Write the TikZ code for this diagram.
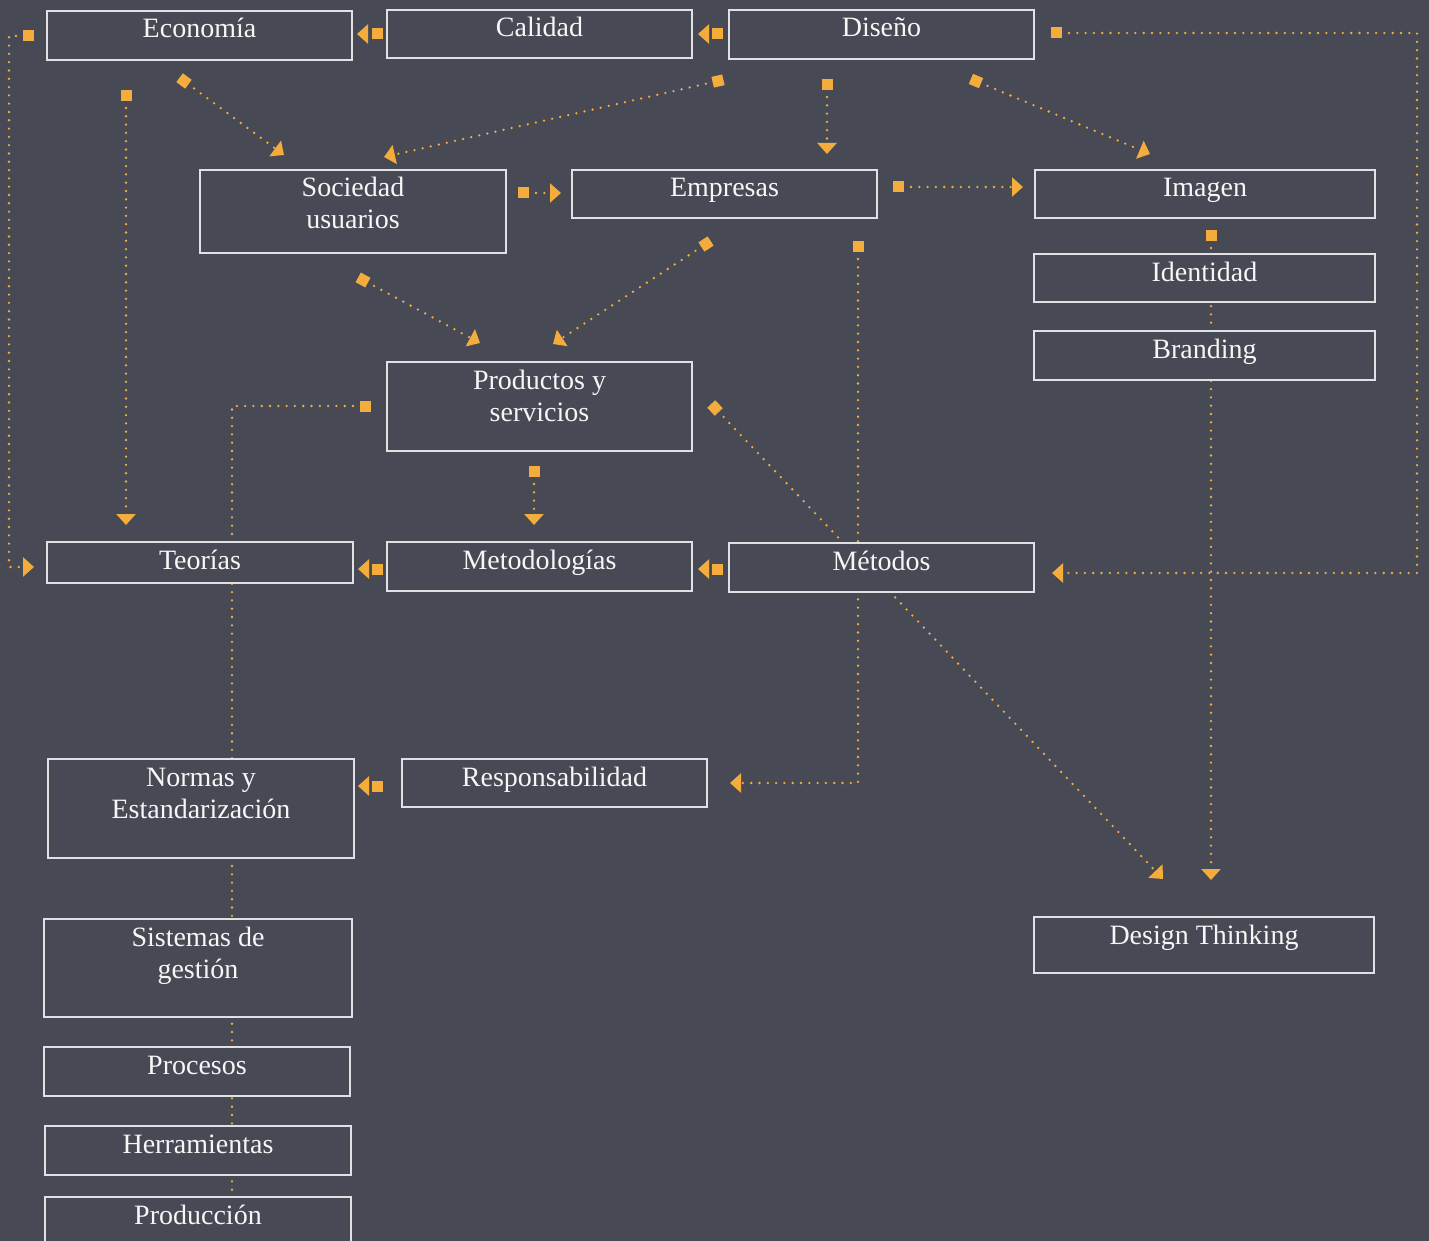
\documentclass[tikz,border=0pt]{standalone}
\usepackage{fontspec}
\setmainfont{Liberation Serif}
\usetikzlibrary{arrows.meta}
\definecolor{bgc}{RGB}{71,74,84}
\definecolor{orn}{RGB}{244,173,60}
\definecolor{edg}{RGB}{225,225,228}
\definecolor{txc}{RGB}{246,246,246}
\newcommand\mybox[7]{%
  \node[boxst, minimum width={#4-#2}, minimum height={#5-#3}] (#1) at ({(#2+#4)/2},{(#3+#5)/2}) {};
  \node[txt, anchor=base] (#1-l1) at ([yshift=-27pt]#1.north) {#6};
  \if\relax\detokenize{#7}\relax\else
  \node[txt, anchor=base] (#1-l2) at ([yshift=-59pt]#1.north) {#7};\fi}
\begin{document}
\begin{tikzpicture}[x=1pt,y=-1pt,
  boxst/.style={draw=edg, line width=1.3pt, fill=bgc, inner sep=0pt, outer sep=0pt},
  txt/.style={text=txc, font=\fontsize{28}{32}\selectfont, inner sep=0pt},
  conn/.style={draw=orn, line width=2.6pt, dash pattern=on 0pt off 8.3pt, line cap=round,
    arrows={Square[length=11pt,width=11pt]-Triangle[length=11pt,width=19pt]}},
  link/.style={draw=orn, line width=2.6pt, dash pattern=on 0pt off 8.3pt, line cap=round,
    arrows={Square[length=11pt,width=11pt]-}}]
\useasboundingbox (0,0) rectangle (1429,1241);
\clip (0,0) rectangle (1429,1241);
\fill[bgc] (0,0) rectangle (1429,1241);

% connector end points
\coordinate (c1s) at (383,34);   \coordinate (c1e) at (357,34);
\coordinate (c2s) at (723,34);   \coordinate (c2e) at (698,34);
\coordinate (c3s) at (1051,33);  \coordinate (c3a) at (1417,33); \coordinate (c3b) at (1417,573); \coordinate (c3e) at (1052,573);
\coordinate (c4s) at (34,36);    \coordinate (c4a) at (9,36);    \coordinate (c4b) at (9,567);     \coordinate (c4e) at (34,567);
\coordinate (c5s) at (126,90);   \coordinate (c5e) at (126,525);
\coordinate (c6s) at (179.6,77.7); \coordinate (c6e) at (284,155);
\coordinate (c7s) at (723.4,79.8); \coordinate (c7e) at (384,157);
\coordinate (c8s) at (827,79);   \coordinate (c8e) at (827,154);
\coordinate (c9s) at (970.9,78.9); \coordinate (c9e) at (1150,154);
\coordinate (c10s) at (518,193); \coordinate (c10e) at (561,193);
\coordinate (c11s) at (893,187); \coordinate (c11e) at (1023,187);
\coordinate (c12s) at (1211,230); \coordinate (c12e) at (1211,880);
\coordinate (c13s) at (710.6,241); \coordinate (c13e) at (553,344);
\coordinate (c14s) at (358.2,277.4); \coordinate (c14e) at (480,343);
\coordinate (c15s) at (858,241); \coordinate (c15a) at (858,783); \coordinate (c15e) at (730,783);
\coordinate (c16s) at (371,406); \coordinate (c16a) at (232,406); \coordinate (c16e) at (232,1262);
\coordinate (c17s) at (534,466); \coordinate (c17e) at (534,525);
\coordinate (c18s) at (383,569); \coordinate (c18e) at (358,569);
\coordinate (c19s) at (723,569); \coordinate (c19e) at (698,569);
\coordinate (c20s) at (711.2,404); \coordinate (c20e) at (1163,879);
\coordinate (c21s) at (383,786); \coordinate (c21e) at (358,786);

% connectors (drawn below the boxes)
\draw[conn] (c1s) -- (c1e);
\draw[conn] (c2s) -- (c2e);
\draw[conn] (c3s) -- (c3a) -- (c3b) -- (c3e);
\draw[conn] (c4s) -- (c4a) -- (c4b) -- (c4e);
\draw[conn] (c5s) -- (c5e);
\draw[conn] (c6s) -- (c6e);
\draw[conn] (c7s) -- (c7e);
\draw[conn] (c8s) -- (c8e);
\draw[conn] (c9s) -- (c9e);
\draw[conn] (c10s) -- (c10e);
\draw[conn] (c11s) -- (c11e);
\draw[conn] (c12s) -- (c12e);
\draw[conn] (c13s) -- (c13e);
\draw[conn] (c14s) -- (c14e);
\draw[conn] (c15s) -- (c15a) -- (c15e);
\draw[link] (c16s) -- (c16a) -- (c16e);
\draw[conn] (c17s) -- (c17e);
\draw[conn] (c18s) -- (c18e);
\draw[conn] (c19s) -- (c19e);
\draw[conn] (c20s) -- (c20e);
\draw[conn] (c21s) -- (c21e);

% boxes
\mybox{eco}{47}{11}{352}{60}{Economía}{}
\mybox{cal}{387}{10}{692}{58}{Calidad}{}
\mybox{dis}{729}{10}{1034}{59}{Diseño}{}
\mybox{soc}{200}{170}{506}{253}{Sociedad}{usuarios}
\mybox{emp}{572}{170}{877}{218}{Empresas}{}
\mybox{ima}{1035}{170}{1375}{218}{Imagen}{}
\mybox{ide}{1034}{254}{1375}{302}{Identidad}{}
\mybox{bra}{1034}{331}{1375}{380}{Branding}{}
\mybox{pro}{387}{362}{692}{451}{Productos y}{servicios}
\mybox{teo}{47}{542}{353}{583}{Teorías}{}
\mybox{mtg}{387}{542}{692}{591}{Metodologías}{}
\mybox{mto}{729}{543}{1034}{592}{Métodos}{}
\mybox{nor}{48}{759}{354}{858}{Normas y}{Estandarización}
\mybox{res}{402}{759}{707}{807}{Responsabilidad}{}
\mybox{sis}{44}{919}{352}{1017}{Sistemas de}{gestión}
\mybox{prc}{44}{1047}{350}{1096}{Procesos}{}
\mybox{her}{45}{1126}{351}{1175}{Herramientas}{}
\mybox{prd}{45}{1197}{351}{1262}{Producción}{}
\mybox{dt}{1034}{917}{1374}{973}{Design Thinking}{}
\end{tikzpicture}
\end{document}
